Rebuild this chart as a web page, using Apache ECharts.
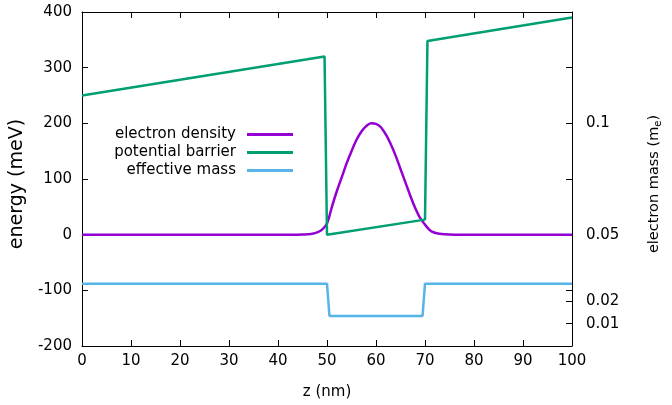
<!DOCTYPE html>
<html>
<head>
<meta charset="utf-8">
<script src="https://cdn.jsdelivr.net/npm/echarts@6/dist/echarts.min.js"></script>
<style>html,body{margin:0;padding:0;background:#fff}#c{width:672px;height:405px}</style>
</head>
<body>
<div id="c"></div>
<script>
// x ticks and data
const xTicks = [0,10,20,30,40,50,60,70,80,90,100];
const massTicks = [0.01, 0.02, 0.05, 0.1];

const densityZ = [0, 44, 45, 46, 47, 48, 49, 50, 51, 52, 53, 54, 55, 56, 57, 58, 59, 60, 61, 62, 63, 64, 65, 66, 67, 68, 69, 70, 71, 72, 73, 74, 75, 76, 100];
const densityE = [0, 0, 0.3, 0.8, 1.5, 4, 9, 20, 50, 78, 103, 128, 150, 170, 185, 195, 200, 199, 193, 180, 163, 142, 118, 94, 70, 48, 30, 18, 8, 3.5, 1.5, 0.6, 0.2, 0, 0];

const potentialZ = [0, 49.5, 50, 70, 70.5, 100];
const potentialE = [250, 320, 0, 27, 348, 390];

const massZ = [0, 50, 50.5, 69.5, 70, 100];
const massM = [0.028, 0.028, 0.0135, 0.0135, 0.028, 0.028];

const names = ['electron density', 'potential barrier', 'effective mass'];
const colors = ['#9400d3', '#009e73', '#56b4e9'];

function pairs(xs, ys){ return xs.map((x,i)=>[x, ys[i]]); }

const FONT = 'DejaVu Sans';
const chart = echarts.init(document.getElementById('c'), null, {renderer:'canvas'});
const axisLine = {show:true, onZero:false, lineStyle:{color:'#000', width:1}};
const tick = {show:true, inside:true, length:6, lineStyle:{color:'#000', width:1}};

chart.setOption({
  animation:false,
  backgroundColor:'#fff',
  textStyle:{fontFamily:FONT},
  grid:{left:82, right:100, top:12, bottom:58, containLabel:false},
  legend:{
    orient:'vertical', align:'right', right:379, top:127, padding:0,
    itemWidth:46, itemHeight:3, itemGap:3, icon:'rect',
    textStyle:{fontSize:15, fontFamily:FONT, color:'#000', lineHeight:15, padding:[0,6,0,0]},
    data:names
  },
  xAxis:[{
    type:'value', min:0, max:100, interval:10, position:'bottom',
    name:'z (nm)', nameLocation:'middle', nameGap:39,
    nameTextStyle:{fontSize:15, color:'#000', fontFamily:FONT},
    axisLine:axisLine, axisTick:tick, splitLine:{show:false},
    axisLabel:{fontSize:15, color:'#000', margin:8, fontFamily:FONT}
  },{
    type:'value', min:0, max:100, interval:10, position:'top',
    axisLine:axisLine, axisTick:tick, splitLine:{show:false},
    axisLabel:{show:false}
  }],
  yAxis:[{
    type:'value', min:-200, max:400, interval:100, position:'left',
    name:'energy (meV)', nameLocation:'middle', nameGap:50, nameRotate:90,
    nameTextStyle:{fontSize:19, color:'#000', fontFamily:FONT, padding:[0,10,0,0]},
    axisLine:axisLine, axisTick:tick, splitLine:{show:false},
    axisLabel:{fontSize:15, color:'#000', margin:10, fontFamily:FONT}
  },{
    type:'value', min:0, max:0.15, position:'right',
    name:'electron mass (m{sub|e})', nameLocation:'middle', nameGap:73, nameRotate:90,
    nameTextStyle:{fontSize:14.5, color:'#000', fontFamily:FONT, padding:[0,10,0,0],
      rich:{sub:{fontSize:10, verticalAlign:'bottom', padding:[8,0,0,0], color:'#000', fontFamily:FONT}}},
    axisLine:axisLine,
    axisTick:Object.assign({}, tick, {customValues:massTicks}),
    splitLine:{show:false},
    axisLabel:{fontSize:15, color:'#000', margin:14, fontFamily:FONT,
      customValues:massTicks, formatter:v=>String(v)}
  },{
    type:'value', min:-200, max:400, interval:100, position:'right',
    axisLine:{show:false, onZero:false}, axisTick:tick, splitLine:{show:false},
    axisLabel:{show:false}
  }],
  series:[{
    name:names[0], type:'line', xAxisIndex:0, yAxisIndex:0,
    data:pairs(densityZ, densityE), showSymbol:false, smooth:0.35,
    lineStyle:{color:colors[0], width:2.5}, itemStyle:{color:colors[0]}
  },{
    name:names[1], type:'line', xAxisIndex:0, yAxisIndex:0,
    data:pairs(potentialZ, potentialE), showSymbol:false,
    lineStyle:{color:colors[1], width:2.5}, itemStyle:{color:colors[1]}
  },{
    name:names[2], type:'line', xAxisIndex:0, yAxisIndex:1,
    data:pairs(massZ, massM), showSymbol:false,
    lineStyle:{color:colors[2], width:2.5}, itemStyle:{color:colors[2]}
  }]
});
</script>
</body>
</html>
